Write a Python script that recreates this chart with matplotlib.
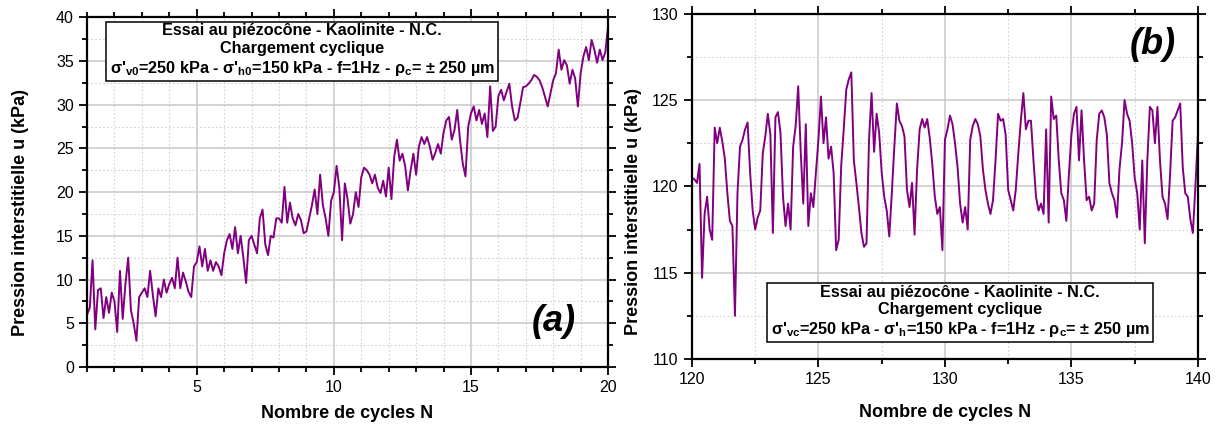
import numpy as np
import matplotlib
matplotlib.use("Agg")
import matplotlib.pyplot as plt
from matplotlib.ticker import MultipleLocator

plt.rcParams["font.family"] = ["Liberation Sans", "DejaVu Sans"]
plt.rcParams["mathtext.fontset"] = "custom"
plt.rcParams["mathtext.rm"] = "Liberation Sans"
plt.rcParams["mathtext.bf"] = "Liberation Sans:bold"

# (a) cycles 1 -> 20, 10 readings per cycle
n_a_start, n_a_end = 1, 20
u_a = [
    6.0, 6.8, 12.2, 4.3, 8.8, 9.0, 5.6, 8.0, 6.2, 8.5,
    7.5, 4.0, 11.0, 5.5, 9.5, 12.5, 6.5, 5.0, 3.0, 8.0,
    8.5, 9.0, 8.0, 11.0, 8.2, 5.8, 9.0, 8.0, 10.0, 8.5,
    9.5, 10.2, 9.0, 12.5, 9.0, 10.8, 9.8, 8.6, 8.0, 11.5,
    12.0, 13.8, 11.5, 13.5, 11.0, 12.2, 11.0, 12.0, 11.5, 10.5,
    13.0, 14.5, 15.2, 13.5, 16.0, 13.0, 15.0, 12.5, 9.6, 14.5,
    15.0, 14.0, 13.0, 17.0, 18.0, 14.0, 12.8, 15.0, 14.8, 17.0,
    17.0, 16.5, 20.6, 16.5, 18.8, 17.0, 16.2, 17.5, 16.8, 15.3,
    15.5, 17.0, 18.5, 20.3, 17.5, 22.0, 18.5, 17.0, 15.0, 19.0,
    20.0, 23.0, 20.5, 14.5, 21.0, 19.2, 16.4, 17.5, 20.0, 18.3,
    21.7, 22.8, 22.5, 22.0, 21.0, 22.0, 20.5, 19.9, 21.3, 19.5,
    22.8, 19.2, 24.0, 26.0, 23.6, 24.4, 23.0, 20.2, 22.5, 24.4,
    22.0, 25.2, 26.3, 25.5, 26.3, 25.2, 23.7, 24.5, 25.5, 24.4,
    26.8, 28.2, 28.6, 26.0, 27.1, 29.4, 26.0, 23.3, 21.8, 27.5,
    29.0, 29.8, 28.2, 29.4, 27.8, 29.0, 26.3, 32.1, 27.0, 27.5,
    31.0, 31.7, 30.5, 31.5, 32.4, 29.8, 28.2, 28.5, 30.2, 32.0,
    32.1, 32.4, 32.8, 33.4, 33.2, 32.8, 32.0, 30.9, 29.8, 31.3,
    32.8, 33.6, 36.3, 34.0, 35.1, 34.5, 32.4, 34.0, 33.0, 29.8,
    33.6, 35.5, 36.6, 35.1, 37.4, 36.3, 34.8, 36.3, 35.1, 36.0,
    38.9,
]

# (b) cycles 120 -> 140, 10 readings per cycle
n_b_start, n_b_end = 120, 140
u_b = [
    120.5, 120.4, 120.2, 121.3, 114.7, 118.4, 119.4, 117.5, 116.9, 123.4,
    122.5, 123.4, 122.6, 121.6, 119.6, 118.0, 117.7, 112.5, 119.6, 122.3,
    122.7, 123.3, 123.7, 120.8, 118.6, 117.5, 118.2, 118.6, 121.9, 122.9,
    124.2, 123.0, 117.3, 124.0, 124.3, 123.1, 119.4, 117.7, 119.0, 117.5,
    122.3, 123.5, 125.8, 122.0, 119.0, 123.6, 117.7, 119.6, 118.8, 120.8,
    122.7, 125.2, 122.5, 124.0, 121.6, 122.3, 120.8, 116.3, 116.9, 121.2,
    123.3, 125.6, 126.2, 126.6, 121.5, 120.2, 118.8, 117.3, 116.5, 116.7,
    122.7, 125.4, 122.0, 124.2, 123.1, 120.8, 119.4, 118.6, 117.1, 119.6,
    122.3, 124.8, 123.8, 123.5, 122.9, 119.8, 118.8, 120.2, 117.2, 121.0,
    123.3, 123.9, 123.4, 123.9, 122.8, 121.3, 119.4, 118.4, 118.8, 116.3,
    122.7, 123.3, 124.1, 123.6, 122.5, 121.1, 119.0, 117.9, 118.8, 117.5,
    122.7, 123.5, 123.9, 123.6, 122.9, 121.0, 119.8, 119.0, 118.4, 119.2,
    121.5, 124.2, 123.8, 123.9, 123.0, 119.8, 119.2, 118.6, 119.8, 121.9,
    123.8, 125.4, 123.3, 123.8, 123.8, 121.5, 119.4, 118.6, 119.0, 118.4,
    123.3, 117.9, 125.2, 123.9, 124.1, 121.5, 119.6, 119.2, 118.0, 120.7,
    123.0, 124.2, 124.6, 121.5, 124.4, 121.5, 119.2, 119.4, 118.6, 119.0,
    122.7, 124.2, 124.4, 124.0, 123.0, 120.2, 119.6, 119.2, 118.2, 121.0,
    122.5, 125.0, 124.2, 123.8, 122.5, 120.5, 119.6, 117.5, 121.5, 116.7,
    121.5, 124.6, 124.4, 122.5, 124.6, 121.5, 119.4, 119.0, 118.1, 120.7,
    123.8, 124.0, 124.4, 124.8, 121.1, 119.6, 119.4, 118.1, 117.3, 120.0,
    123.0,
]

box_a = ("Essai au piézocône - Kaolinite - N.C.\nChargement cyclique\n"
         r"σ'$_{\mathbf{v0}}$=250 kPa - σ'$_{\mathbf{h0}}$=150 kPa - f=1Hz - ρ$_{\mathbf{c}}$= ± 250 µm")
box_b = ("Essai au piézocône - Kaolinite - N.C.\nChargement cyclique\n"
         r"σ'$_{\mathbf{vc}}$=250 kPa - σ'$_{\mathbf{h}}$=150 kPa - f=1Hz - ρ$_{\mathbf{c}}$= ± 250 µm")

ylabel = "Pression interstitielle u (kPa)"
xlabel = "Nombre de cycles N"
purple = "#800080"

fig = plt.figure(figsize=(12.21, 4.32), dpi=100)
ax_a = fig.add_axes([0.0713, 0.1505, 0.4267, 0.8095])
ax_b = fig.add_axes([0.5667, 0.1690, 0.4144, 0.7993])


def style(ax, xmaj, xmin, ymaj, ymin, xpad, ylab_xy):
    ax.xaxis.set_major_locator(MultipleLocator(xmaj))
    ax.xaxis.set_minor_locator(MultipleLocator(xmin))
    ax.yaxis.set_major_locator(MultipleLocator(ymaj))
    ax.yaxis.set_minor_locator(MultipleLocator(ymin))
    ax.grid(which="major", color="#c8c8c8", lw=1.1, ls="-")
    ax.grid(which="minor", color="#d2d2d2", lw=0.8, ls=(0, (1.5, 2)))
    ax.set_axisbelow(True)
    for s in ax.spines.values():
        s.set_linewidth(1.6)
    ax.tick_params(which="both", direction="out", top=True, right=True,
                   labelsize=11.5, width=1.3)
    ax.tick_params(which="major", length=6)
    ax.tick_params(which="minor", length=3.5)
    ax.set_xlabel(xlabel, fontsize=13, fontweight="bold", labelpad=xpad)
    ax.set_ylabel(ylabel, fontsize=13, fontweight="bold")
    ax.yaxis.set_label_coords(*ylab_xy)


n_a = np.linspace(n_a_start, n_a_end, len(u_a))
ax_a.plot(n_a, u_a, color=purple, lw=1.4)
ax_a.set_xlim(1, 20)
ax_a.set_ylim(0, 40)
style(ax_a, 5, 1, 5, 2.5, 7, (-0.111, 0.443))
ax_a.text(0.413, 0.905, box_a, transform=ax_a.transAxes, ha="center", va="center",
          fontsize=11.7, fontweight="bold", linespacing=1.2,
          bbox=dict(boxstyle="square,pad=0.2", fc="white", ec="black", lw=1.1))
ax_a.text(0.895, 0.13, "(a)", transform=ax_a.transAxes, ha="center", va="center",
          fontsize=26, fontweight="bold", fontstyle="italic")

n_b = np.linspace(n_b_start, n_b_end, len(u_b))
ax_b.plot(n_b, u_b, color=purple, lw=1.4)
ax_b.set_xlim(120, 140)
ax_b.set_ylim(110, 130)
style(ax_b, 5, 2.5, 5, 2.5, 12, (-0.099, 0.426))
ax_b.text(0.530, 0.137, box_b, transform=ax_b.transAxes, ha="center", va="center",
          fontsize=11.7, fontweight="bold", linespacing=1.2,
          bbox=dict(boxstyle="square,pad=0.2", fc="white", ec="black", lw=1.1))
ax_b.text(0.91, 0.91, "(b)", transform=ax_b.transAxes, ha="center", va="center",
          fontsize=26, fontweight="bold", fontstyle="italic")

fig.savefig("out.png", dpi=100)
